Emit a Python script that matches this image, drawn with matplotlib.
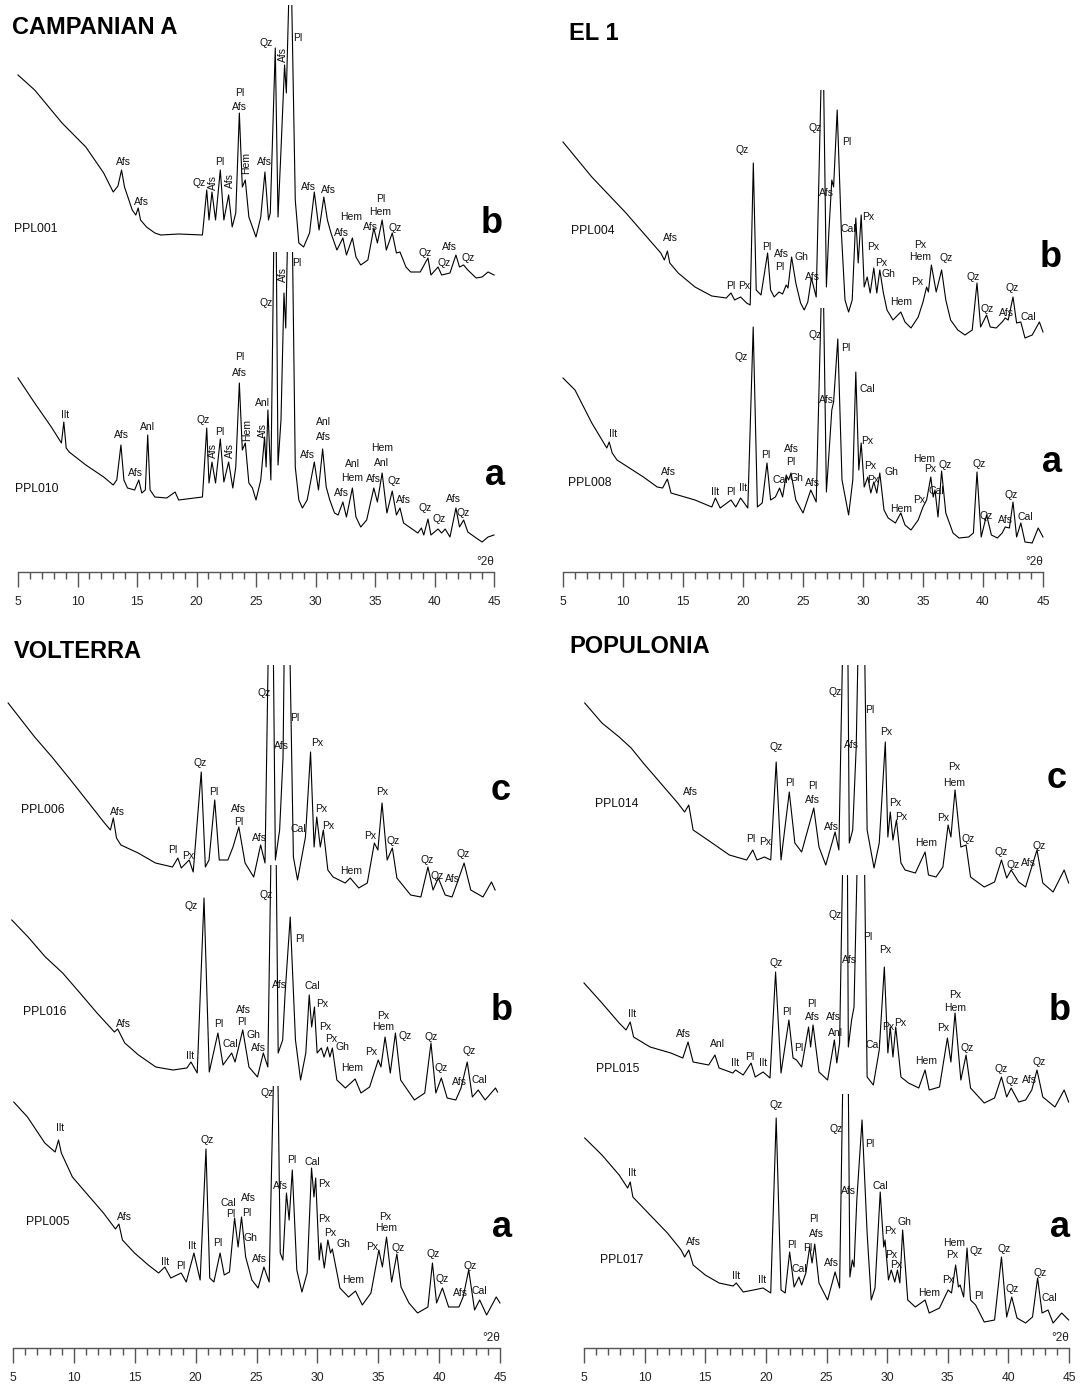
import numpy as np
import matplotlib
matplotlib.use("Agg")
import matplotlib.pyplot as plt
from matplotlib.patches import Rectangle

plt.rcParams['font.family'] = ['Liberation Sans', 'DejaVu Sans']

# ---- XRD patterns: (2theta, intensity a.u.) ----
# CAMPANIAN A
PPL001 = [(5.0, 497), (6.4, 482), (8.7, 449), (10.7, 425), (12.2, 399), (13.0, 380), (13.4, 386), (13.7, 402),
          (13.95, 385), (14.6, 362), (14.9, 357), (15.1, 364), (15.3, 352), (15.8, 345), (16.5, 339), (17.0, 337),
          (18.5, 338), (20.5, 337), (20.86, 382), (21.05, 352), (21.3, 380), (21.6, 352), (22.0, 402), (22.3, 352),
          (22.7, 377), (23.0, 345), (23.3, 359), (23.6, 459), (23.85, 385), (24.1, 392), (24.4, 355), (24.7, 345),
          (25.0, 335), (25.4, 355), (25.75, 400), (26.05, 352), (26.2, 359), (26.62, 524), (26.85, 355), (27.1, 422),
          (27.4, 507), (27.55, 479), (27.9, 640), (28.3, 372), (28.6, 329), (29.0, 325), (29.5, 339), (29.9, 380),
          (30.3, 342), (30.7, 375), (31.0, 352), (31.3, 339), (31.8, 322), (32.3, 334), (32.6, 317), (33.1, 334),
          (33.4, 315), (33.8, 307), (34.4, 312), (34.9, 344), (35.2, 329), (35.6, 352), (35.95, 322), (36.45, 339),
          (36.8, 319), (37.1, 320), (37.6, 305), (38.0, 300), (38.8, 300), (39.45, 314), (39.7, 297), (40.3, 305),
          (40.6, 297), (41.3, 299), (41.8, 317), (42.1, 305), (42.45, 307), (42.8, 302), (43.5, 294), (44.0, 295),
          (44.5, 300), (45.0, 297)]
PPL001_LABELS = [(13.84, 410, 'Afs'), (15.34, 370, 'Afs'), (20.26, 389, 'Qz'), (21.35, 390, 'Afs', 'v'),
                 (21.93, 410, 'Pl'), (22.8, 392, 'Afs', 'v'), (23.63, 479, 'Pl'), (23.63, 465, 'Afs'),
                 (24.16, 409, 'Hem', 'v'), (25.69, 410, 'Afs'), (25.89, 529, 'Qz'), (27.25, 517, 'Afs', 'v'),
                 (28.52, 534, 'Pl'), (29.42, 385, 'Afs'), (31.1, 382, 'Afs'), (33.03, 355, 'Hem'),
                 (35.5, 373, 'Pl'), (35.4, 360, 'Hem'), (32.16, 339, 'Afs'), (34.62, 345, 'Afs'),
                 (36.73, 344, 'Qz'), (39.25, 319, 'Qz'), (40.78, 309, 'Qz'), (41.3, 325, 'Afs'), (42.8, 314, 'Qz')]

PPL010 = [(5.0, 194), (6.4, 169), (7.8, 145), (8.65, 129), (8.85, 150), (9.05, 124), (9.3, 120), (10.7, 107),
          (12.2, 95), (13.0, 87), (13.3, 92), (13.65, 127), (13.9, 92), (14.2, 84), (14.8, 82), (15.15, 92),
          (15.4, 79), (15.7, 82), (15.9, 137), (16.1, 82), (16.5, 75), (17.5, 74), (18.2, 80), (18.5, 72),
          (20.5, 75), (20.86, 144), (21.05, 89), (21.3, 110), (21.6, 89), (22.0, 133), (22.3, 90), (22.7, 110),
          (23.05, 84), (23.3, 105), (23.6, 189), (23.85, 122), (24.1, 129), (24.4, 89), (24.7, 84), (25.0, 72),
          (25.4, 92), (25.72, 135), (25.85, 105), (26.0, 162), (26.25, 92), (26.62, 450), (26.85, 107),
          (27.1, 152), (27.35, 279), (27.5, 244), (27.9, 480), (28.3, 105), (28.6, 72), (28.9, 64), (29.3, 72),
          (29.9, 110), (30.25, 82), (30.6, 123), (30.9, 85), (31.2, 72), (31.6, 59), (31.9, 57), (32.3, 70),
          (32.6, 55), (33.1, 84), (33.4, 55), (33.8, 45), (34.3, 52), (34.9, 84), (35.2, 70), (35.6, 99),
          (36.0, 59), (36.45, 81), (36.8, 57), (37.1, 64), (37.4, 49), (38.0, 44), (38.6, 39), (38.9, 44),
          (39.1, 37), (39.45, 53), (39.7, 37), (40.3, 43), (40.6, 39), (40.9, 43), (41.3, 35), (41.8, 64),
          (42.1, 45), (42.45, 52), (42.8, 40), (43.5, 34), (44.0, 30), (44.5, 35), (45.0, 37)]
PPL010_LABELS = [(8.98, 157, 'Ilt'), (13.67, 137, 'Afs'), (14.91, 99, 'Afs'), (15.86, 145, 'Anl'),
                 (20.54, 152, 'Qz'), (21.35, 122, 'Afs', 'v'), (21.99, 140, 'Pl'), (22.8, 122, 'Afs', 'v'),
                 (23.63, 215, 'Pl'), (23.63, 199, 'Afs'), (24.25, 142, 'Hem', 'v'), (25.55, 169, 'Anl'),
                 (25.55, 142, 'Afs', 'v'), (25.89, 269, 'Qz'), (27.25, 297, 'Afs', 'v'), (28.4, 309, 'Pl'),
                 (29.3, 117, 'Afs'), (30.66, 150, 'Anl'), (30.66, 135, 'Afs'), (32.16, 79, 'Afs'),
                 (33.1, 108, 'Anl'), (33.1, 94, 'Hem'), (34.85, 93, 'Afs'), (35.58, 124, 'Hem'),
                 (35.58, 109, 'Anl'), (36.64, 91, 'Qz'), (37.37, 72, 'Afs'), (39.19, 64, 'Qz'),
                 (40.43, 53, 'Qz'), (41.59, 73, 'Afs'), (42.37, 59, 'Qz')]

# EL 1
PPL004 = [(5.0, 430), (7.4, 395), (10.25, 359), (11.7, 339), (13.15, 319), (13.45, 312), (13.7, 321), (13.9, 309),
          (14.6, 299), (16.0, 285), (17.4, 276), (18.6, 274), (19.0, 279), (19.3, 272), (19.8, 275), (20.3, 269),
          (20.6, 267), (20.86, 409), (21.1, 282), (21.5, 277), (22.05, 319), (22.3, 282), (22.6, 275), (23.0, 280),
          (23.3, 278), (23.6, 287), (23.75, 284), (24.05, 315), (24.4, 289), (24.8, 269), (25.1, 262), (25.4, 270),
          (25.7, 294), (26.1, 275), (26.64, 560), (26.95, 285), (27.15, 339), (27.4, 392), (27.55, 385),
          (27.85, 462), (28.2, 339), (28.5, 272), (28.8, 260), (29.1, 272), (29.4, 354), (29.6, 309), (29.85, 357),
          (30.1, 285), (30.35, 295), (30.6, 279), (30.9, 304), (31.15, 279), (31.4, 302), (31.7, 279), (32.0, 262),
          (32.5, 252), (33.15, 260), (33.5, 250), (34.0, 244), (34.6, 255), (35.0, 270), (35.3, 285), (35.45, 280),
          (35.7, 307), (36.1, 280), (36.55, 302), (36.9, 272), (37.3, 252), (37.9, 242), (38.5, 237), (39.1, 242),
          (39.5, 289), (39.8, 245), (40.3, 257), (40.6, 245), (41.1, 244), (41.6, 250), (41.85, 254), (42.1, 252),
          (42.5, 275), (42.8, 249), (43.15, 250), (43.5, 234), (44.1, 237), (44.7, 250), (45.0, 240)]
PPL004_LABELS = [(13.92, 334, 'Afs'), (18.97, 286, 'Pl'), (20.08, 286, 'Px'), (19.9, 422, 'Qz'),
                 (21.97, 325, 'Pl'), (23.2, 318, 'Afs'), (24.83, 315, 'Gh'), (23.1, 305, 'Pl'),
                 (25.78, 295, 'Afs'), (26.02, 444, 'Qz'), (26.93, 379, 'Afs'), (28.66, 430, 'Pl'),
                 (28.8, 343, 'Cal'), (30.44, 355, 'Px'), (30.82, 325, 'Px'), (31.48, 309, 'Px'),
                 (32.11, 298, 'Gh'), (33.17, 270, 'Hem'), (34.75, 327, 'Px'), (34.8, 315, 'Hem'),
                 (34.49, 290, 'Px'), (36.91, 314, 'Qz'), (39.15, 295, 'Qz'), (40.38, 263, 'Qz'),
                 (41.93, 259, 'Afs'), (42.39, 284, 'Qz'), (43.74, 255, 'Cal')]

PPL008 = [(5.0, 194), (6.0, 182), (7.4, 149), (8.4, 129), (8.65, 124), (8.85, 130), (9.1, 119), (9.5, 112),
          (11.7, 95), (12.85, 85), (13.3, 84), (13.7, 93), (14.0, 79), (16.0, 72), (17.4, 65), (17.7, 74),
          (18.1, 64), (19.0, 72), (19.4, 65), (19.8, 74), (20.4, 64), (20.85, 245), (21.2, 65), (21.6, 69),
          (22.0, 109), (22.3, 72), (22.7, 75), (23.05, 84), (23.3, 75), (23.6, 97), (23.8, 92), (24.0, 99),
          (24.4, 72), (25.0, 59), (25.65, 82), (26.1, 70), (26.64, 330), (26.95, 80), (27.2, 125), (27.4, 162),
          (27.55, 170), (27.9, 233), (28.25, 92), (28.8, 57), (29.15, 92), (29.4, 200), (29.65, 102),
          (29.85, 129), (30.1, 85), (30.4, 95), (30.65, 79), (30.9, 90), (31.15, 79), (31.4, 99), (31.75, 62),
          (32.1, 54), (32.7, 49), (33.15, 59), (33.5, 47), (34.0, 42), (34.6, 52), (35.0, 65), (35.3, 72),
          (35.65, 95), (35.85, 75), (36.0, 82), (36.25, 55), (36.55, 101), (36.9, 59), (37.5, 39), (38.0, 34),
          (38.8, 35), (39.2, 39), (39.5, 100), (39.85, 35), (40.3, 57), (40.7, 37), (41.2, 34), (41.6, 39),
          (41.85, 45), (42.2, 44), (42.5, 70), (42.8, 35), (43.15, 49), (43.5, 30), (44.1, 29), (44.6, 44),
          (45.0, 35)]
PPL008_LABELS = [(9.2, 138, 'Ilt'), (13.78, 100, 'Afs'), (17.65, 80, 'Ilt'), (18.97, 80, 'Pl'),
                 (20.03, 84, 'Ilt'), (19.83, 215, 'Qz'), (21.91, 117, 'Pl'), (24.0, 123, 'Afs'),
                 (24.0, 110, 'Pl'), (23.1, 92, 'Cal'), (24.49, 94, 'Gh'), (25.78, 89, 'Afs'),
                 (26.02, 237, 'Qz'), (26.93, 172, 'Afs'), (28.6, 224, 'Pl'), (30.38, 183, 'Cal'),
                 (30.38, 131, 'Px'), (30.61, 106, 'Px'), (32.39, 100, 'Gh'), (30.82, 92, 'Px'),
                 (33.17, 63, 'Hem'), (34.69, 72, 'Px'), (35.13, 113, 'Hem'), (35.61, 103, 'Px'),
                 (36.85, 107, 'Qz'), (36.07, 81, 'Cal'), (39.67, 108, 'Qz'), (40.3, 56, 'Qz'),
                 (41.87, 52, 'Afs'), (42.31, 77, 'Qz'), (43.54, 55, 'Cal')]

# VOLTERRA
PPL006 = [(5.0, 645), (7.18, 611), (8.6, 591), (10.0, 570), (11.43, 548), (12.85, 526), (13.4, 518), (13.64, 530),
          (13.9, 510), (14.26, 503), (15.68, 495), (17.1, 485), (18.5, 481), (18.94, 490), (19.22, 480),
          (19.87, 488), (20.2, 476), (20.86, 576), (21.2, 481), (21.5, 488), (21.97, 548), (22.34, 488),
          (23.05, 488), (23.47, 501), (23.95, 521), (24.46, 485), (25.17, 471), (25.74, 503), (26.1, 485),
          (26.62, 900), (26.95, 488), (27.3, 518), (27.58, 591), (27.86, 900), (28.43, 491), (28.77, 468),
          (29.42, 511), (29.84, 596), (30.13, 501), (30.35, 531), (30.64, 501), (30.89, 518), (31.26, 478),
          (31.69, 471), (32.68, 465), (33.1, 470), (33.8, 460), (34.5, 465), (35.08, 505), (35.37, 498),
          (35.71, 545), (36.13, 488), (36.56, 500), (36.93, 470), (38.06, 453), (38.9, 451), (39.48, 481),
          (39.9, 458), (40.33, 470), (40.9, 453), (41.46, 451), (41.88, 465), (42.45, 485), (43.0, 458),
          (44.0, 451), (44.7, 466), (45.0, 458)]
PPL006_LABELS = [(13.98, 536, 'Afs'), (18.51, 498, 'Pl'), (19.79, 492, 'Px'), (20.78, 585, 'Qz'),
                 (21.91, 556, 'Pl'), (23.95, 539, 'Afs'), (23.95, 526, 'Pl'), (25.65, 510, 'Afs'),
                 (26.02, 655, 'Qz'), (27.44, 602, 'Afs'), (28.57, 630, 'Pl'), (28.85, 519, 'Cal'),
                 (30.41, 605, 'Px'), (30.75, 539, 'Px'), (31.26, 522, 'Px'), (33.19, 477, 'Hem'),
                 (34.75, 512, 'Px'), (35.71, 556, 'Px'), (36.64, 507, 'Qz'), (39.42, 488, 'Qz'),
                 (40.27, 472, 'Qz'), (41.52, 469, 'Afs'), (42.37, 494, 'Qz')]

PPL016 = [(5.1, 428), (6.44, 411), (7.86, 391), (9.28, 375), (10.7, 355), (12.1, 335), (13.53, 316), (13.8, 319),
          (14.38, 305), (15.51, 293), (16.93, 281), (18.34, 278), (19.48, 280), (19.82, 286), (20.33, 275),
          (20.89, 450), (21.32, 276), (22.03, 315), (22.45, 283), (23.16, 295), (23.44, 286), (24.07, 318),
          (24.58, 281), (25.28, 271), (25.76, 295), (26.13, 281), (26.64, 700), (26.98, 295), (27.35, 308),
          (27.55, 355), (27.97, 431), (28.4, 308), (28.82, 268), (29.25, 295), (29.53, 353), (29.73, 321),
          (29.96, 341), (30.18, 295), (30.52, 300), (30.75, 291), (31.03, 301), (31.23, 291), (31.43, 300),
          (31.8, 268), (32.5, 260), (33.3, 269), (33.78, 255), (34.49, 261), (35.2, 288), (35.42, 281),
          (35.76, 311), (36.19, 275), (36.61, 315), (37.04, 268), (38.17, 248), (39.02, 255), (39.53, 305),
          (39.93, 255), (40.38, 270), (40.86, 250), (41.57, 248), (42.0, 260), (42.51, 286), (42.93, 251),
          (43.41, 258), (43.98, 248), (44.83, 260), (45.0, 256)]
PPL016_LABELS = [(14.24, 324, 'Afs'), (19.76, 292, 'Ilt'), (19.82, 442, 'Qz'), (22.08, 324, 'Pl'),
                 (23.02, 304, 'Cal'), (24.09, 338, 'Afs'), (24.01, 326, 'Pl'), (24.92, 313, 'Gh'),
                 (25.37, 300, 'Afs'), (25.99, 453, 'Qz'), (27.12, 363, 'Afs'), (28.77, 409, 'Pl'),
                 (29.76, 362, 'Cal'), (30.58, 344, 'Px'), (30.86, 321, 'Px'), (31.32, 309, 'Px'),
                 (32.22, 301, 'Gh'), (33.07, 280, 'Hem'), (34.63, 296, 'Px'), (35.57, 332, 'Px'),
                 (35.62, 321, 'Hem'), (37.38, 312, 'Qz'), (39.53, 311, 'Qz'), (40.38, 280, 'Qz'),
                 (41.91, 266, 'Afs'), (42.65, 297, 'Qz'), (43.5, 268, 'Cal')]

PPL005 = [(5.06, 246), (6.19, 231), (7.61, 205), (8.46, 196), (8.74, 208), (8.97, 195), (9.88, 171), (11.01, 155),
          (12.43, 135), (13.42, 119), (13.7, 124), (13.99, 108), (14.98, 95), (16.11, 83), (16.96, 75),
          (17.47, 81), (17.96, 70), (18.81, 75), (19.23, 66), (19.86, 95), (20.37, 68), (20.85, 199), (21.16, 70),
          (21.5, 66), (22.01, 95), (22.35, 73), (22.78, 76), (23.2, 130), (23.49, 101), (23.77, 131), (24.11, 91),
          (24.62, 68), (25.13, 60), (25.61, 81), (26.04, 66), (26.62, 400), (26.95, 95), (27.17, 88),
          (27.46, 155), (27.68, 128), (27.94, 178), (28.31, 78), (28.73, 56), (29.16, 75), (29.52, 180),
          (29.72, 151), (29.86, 170), (30.15, 88), (30.29, 105), (30.57, 80), (30.86, 108), (31.08, 95),
          (31.23, 99), (31.85, 60), (32.56, 51), (33.13, 57), (33.69, 43), (34.4, 55), (35.05, 98), (35.34, 81),
          (35.68, 111), (36.1, 66), (36.53, 94), (36.87, 61), (37.52, 45), (38.23, 35), (39.08, 41), (39.45, 85),
          (39.79, 45), (40.27, 60), (40.78, 41), (41.63, 41), (41.97, 51), (42.43, 78), (42.91, 38), (43.33, 48),
          (43.9, 33), (44.69, 51), (45.0, 45)]
PPL005_LABELS = [(8.88, 220, 'Ilt'), (14.13, 131, 'Afs'), (17.47, 86, 'Ilt'), (18.81, 82, 'Pl'),
                 (19.74, 102, 'Ilt'), (20.93, 208, 'Qz'), (21.78, 105, 'Pl'), (22.69, 145, 'Cal'),
                 (22.92, 134, 'Pl'), (24.34, 150, 'Afs'), (24.19, 135, 'Pl'), (24.48, 110, 'Gh'),
                 (25.24, 89, 'Afs'), (25.9, 255, 'Qz'), (26.95, 162, 'Afs'), (27.88, 188, 'Pl'),
                 (29.58, 186, 'Cal'), (30.57, 164, 'Px'), (30.57, 129, 'Px'), (31.08, 115, 'Px'),
                 (32.13, 104, 'Gh'), (32.9, 68, 'Hem'), (34.54, 101, 'Px'), (35.59, 131, 'Px'),
                 (35.68, 120, 'Hem'), (36.67, 100, 'Qz'), (39.5, 94, 'Qz'), (40.27, 69, 'Qz'),
                 (41.77, 55, 'Afs'), (42.54, 82, 'Qz'), (43.33, 57, 'Cal')]

# POPULONIA
PPL014 = [(5.06, 645), (6.48, 625), (7.9, 611), (8.89, 600), (9.89, 585), (11.31, 565), (12.73, 545), (13.3, 536),
          (13.64, 543), (14.0, 518), (15.57, 505), (16.99, 493), (18.41, 488), (18.92, 498), (19.26, 488),
          (19.89, 491), (20.4, 488), (20.85, 586), (21.25, 488), (21.93, 556), (22.39, 505), (22.95, 496),
          (23.52, 521), (23.95, 540), (24.38, 501), (24.94, 483), (25.71, 516), (26.02, 498), (26.64, 900),
          (26.88, 505), (27.16, 518), (27.45, 601), (27.92, 900), (28.35, 518), (28.92, 480), (29.35, 505),
          (29.85, 606), (30.06, 511), (30.26, 536), (30.48, 508), (30.77, 528), (31.14, 485), (31.48, 478),
          (32.33, 475), (33.13, 496), (33.41, 473), (34.03, 471), (34.6, 481), (35.03, 523), (35.26, 511),
          (35.6, 558), (36.08, 501), (36.51, 503), (36.88, 471), (38.01, 461), (38.86, 466), (39.43, 488),
          (39.86, 470), (40.23, 478), (40.85, 466), (41.42, 461), (41.85, 478), (42.36, 498), (42.84, 465),
          (43.69, 456), (44.6, 478), (44.97, 465)]
PPL014_LABELS = [(13.78, 556, 'Afs'), (18.75, 509, 'Pl'), (19.97, 506, 'Px'), (20.85, 601, 'Qz'),
                 (21.96, 565, 'Pl'), (23.86, 562, 'Pl'), (23.81, 548, 'Afs'), (25.45, 521, 'Afs'),
                 (25.74, 656, 'Qz'), (27.07, 603, 'Afs'), (28.58, 638, 'Pl'), (29.91, 616, 'Px'),
                 (30.68, 545, 'Px'), (31.19, 531, 'Px'), (33.24, 505, 'Hem'), (34.66, 530, 'Px'),
                 (35.55, 581, 'Px'), (35.5, 565, 'Hem'), (36.68, 509, 'Qz'), (39.43, 496, 'Qz'),
                 (40.43, 483, 'Qz'), (41.65, 485, 'Afs'), (42.56, 502, 'Qz')]

PPL015 = [(5.0, 365), (6.48, 345), (7.9, 325), (8.47, 318), (8.81, 326), (9.09, 311), (10.45, 301), (12.16, 295),
          (13.15, 290), (13.58, 306), (14.0, 286), (15.28, 283), (15.8, 293), (16.14, 280), (17.27, 275),
          (17.5, 278), (18.13, 273), (18.78, 285), (19.12, 271), (19.77, 276), (20.34, 270), (20.8, 376),
          (21.25, 275), (21.9, 328), (22.24, 290), (22.53, 288), (22.95, 281), (23.52, 321), (23.69, 301),
          (23.89, 323), (24.38, 276), (25.09, 268), (25.65, 308), (25.85, 285), (26.08, 305), (26.64, 700),
          (26.8, 301), (27.07, 328), (27.27, 341), (27.92, 700), (28.35, 271), (28.86, 263), (29.35, 298),
          (29.77, 381), (30.06, 295), (30.26, 321), (30.48, 291), (30.71, 321), (31.14, 271), (31.76, 265),
          (32.61, 260), (33.13, 278), (33.47, 258), (34.32, 261), (34.97, 310), (35.26, 286), (35.6, 335),
          (36.08, 268), (36.51, 293), (36.88, 260), (38.01, 245), (38.86, 250), (39.43, 271), (39.86, 251),
          (40.23, 260), (40.85, 246), (41.42, 248), (41.93, 258), (42.36, 278), (42.84, 251), (43.84, 241),
          (44.6, 258), (44.97, 246)]
PPL015_LABELS = [(8.98, 334, 'Ilt'), (13.24, 314, 'Afs'), (15.99, 304, 'Anl'), (17.5, 285, 'Ilt'),
                 (18.69, 291, 'Pl'), (19.77, 285, 'Ilt'), (20.82, 385, 'Qz'), (21.73, 336, 'Pl'),
                 (22.73, 300, 'Pl'), (23.75, 344, 'Pl'), (23.81, 331, 'Afs'), (25.57, 331, 'Afs'),
                 (25.71, 315, 'Anl'), (25.74, 433, 'Qz'), (26.93, 388, 'Afs'), (28.41, 411, 'Pl'),
                 (29.86, 398, 'Px'), (28.86, 303, 'Cal'), (30.06, 321, 'Px'), (31.05, 325, 'Px'),
                 (33.18, 287, 'Hem'), (34.6, 320, 'Px'), (35.6, 353, 'Px'), (35.6, 340, 'Hem'),
                 (36.59, 300, 'Qz'), (39.38, 279, 'Qz'), (40.34, 267, 'Qz'), (41.7, 268, 'Afs'),
                 (42.5, 286, 'Qz')]

PPL017 = [(5.06, 210), (6.48, 193), (7.9, 173), (8.6, 160), (8.81, 166), (9.03, 151), (10.45, 133), (11.88, 115),
          (13.01, 98), (13.3, 91), (13.64, 98), (14.0, 83), (15.0, 73), (16.14, 65), (17.3, 62), (17.56, 65),
          (18.13, 56), (18.98, 58), (19.77, 60), (20.4, 55), (20.85, 230), (21.25, 58), (21.59, 55), (21.96, 96),
          (22.33, 61), (22.73, 71), (22.95, 63), (23.3, 75), (23.61, 101), (23.81, 85), (24.03, 104), (24.38, 65),
          (25.09, 48), (25.71, 76), (26.08, 60), (26.64, 500), (26.93, 71), (27.13, 88), (27.27, 81), (27.5, 148),
          (27.93, 228), (28.35, 115), (28.69, 48), (29.0, 60), (29.43, 156), (29.72, 101), (29.83, 108),
          (30.11, 68), (30.34, 78), (30.63, 66), (30.85, 78), (31.05, 65), (31.28, 118), (31.7, 48), (32.33, 41),
          (33.13, 48), (33.47, 35), (34.32, 40), (35.03, 58), (35.31, 55), (35.65, 83), (35.88, 61), (36.02, 63),
          (36.31, 51), (36.59, 100), (36.88, 48), (37.3, 43), (38.01, 26), (38.86, 28), (39.43, 91), (39.86, 31),
          (40.28, 51), (40.71, 30), (41.42, 25), (41.99, 31), (42.41, 70), (42.78, 35), (43.27, 38), (43.69, 25),
          (44.4, 35), (44.97, 28)]
PPL017_LABELS = [(8.98, 175, 'Ilt'), (14.06, 106, 'Afs'), (17.56, 72, 'Ilt'), (19.69, 68, 'Ilt'),
                 (20.82, 243, 'Qz'), (22.16, 103, 'Pl'), (22.73, 79, 'Cal'), (23.47, 100, 'Pl'),
                 (23.95, 129, 'Pl'), (24.18, 114, 'Afs'), (25.45, 85, 'Afs'), (25.8, 219, 'Qz'),
                 (26.79, 157, 'Afs'), (28.58, 204, 'Pl'), (29.43, 162, 'Cal'), (31.42, 126, 'Gh'),
                 (30.28, 117, 'Px'), (30.34, 93, 'Px'), (30.77, 83, 'Px'), (33.47, 55, 'Hem'),
                 (35.03, 68, 'Px'), (35.51, 105, 'Hem'), (35.4, 93, 'Px'), (37.36, 97, 'Qz'),
                 (37.59, 52, 'Pl'), (39.66, 99, 'Qz'), (40.34, 59, 'Qz'), (42.61, 75, 'Qz'),
                 (43.41, 50, 'Cal')]

# ---- layout (pixel geometry of the original figure) ----
W, H = 1081, 1384
fig = plt.figure(figsize=(W / 100, H / 100), dpi=100)
fig.patch.set_facecolor('white')

# (title, title_x, title_y, x_at_5, x_at_45, axis_y, top_y,
#  traces: (data, labels, name, name_pos, letter, letter_pos, clip_top, shift))
panels = [
    ('CAMPANIAN A', 12, 27, 18, 494, 572, 0, [
        (PPL001, PPL001_LABELS, 'PPL001', (4.66, 343), 'b', (44.8, 339), 567, 0.0),
        (PPL010, PPL010_LABELS, 'PPL010', (4.75, 83), 'a', (45.07, 87), 320, 0.0)]),
    ('EL 1', 569, 33, 563, 1043, 572, 0, [
        (PPL004, PPL004_LABELS, 'PPL004', (5.67, 341), 'b', (45.67, 305), 482, 0.0),
        (PPL008, PPL008_LABELS, 'PPL008', (5.38, 89), 'a', (45.75, 100), 264, 0.0)]),
    ('VOLTERRA', 14, 652, 13, 500, 1348, 620, [
        (PPL006, PPL006_LABELS, 'PPL006', (5.66, 538), 'c', (45.08, 548), 683, -0.4),
        (PPL016, PPL016_LABELS, 'PPL016', (5.86, 336), 'b', (45.16, 328), 483, -0.2),
        (PPL005, PPL005_LABELS, 'PPL005', (6.07, 126), 'a', (45.2, 111), 262, 0.0)]),
    ('POPULONIA', 569, 647, 584, 1069, 1348, 620, [
        (PPL014, PPL014_LABELS, 'PPL014', (5.88, 544), 'c', (44.0, 560), 683, 0.0),
        (PPL015, PPL015_LABELS, 'PPL015', (6.02, 279), 'b', (44.2, 328), 473, 0.0),
        (PPL017, PPL017_LABELS, 'PPL017', (6.3, 88), 'a', (44.26, 111), 254, 0.0)]),
]

for title, tx, ty, x5, x45, yax, ytop, traces in panels:
    fig.text(tx / W, 1 - ty / H, title, fontsize=17, fontweight='bold', ha='left', va='center')
    ax = fig.add_axes([x5 / W, 1 - yax / H, (x45 - x5) / W, (yax - ytop) / H])
    ax.set_xlim(5, 45)
    ax.set_ylim(0, yax - ytop)
    ax.patch.set_alpha(0)
    for s in ('top', 'left', 'right'):
        ax.spines[s].set_visible(False)
    ax.spines['bottom'].set_color('#555555')
    ax.spines['bottom'].set_linewidth(1.0)
    ax.set_yticks([])
    ax.set_xticks(range(5, 46, 5))
    ax.set_xticks(range(5, 46), minor=True)
    ax.tick_params(axis='x', which='major', direction='out', length=11, width=1.0,
                   color='#555555', labelsize=8.7, pad=6, labelcolor='#222222')
    ax.tick_params(axis='x', which='minor', direction='out', length=5, width=1.0, color='#555555')
    ax.text(45, 10, '°2θ', ha='right', va='center', fontsize=8.5, color='#222222')

    for data, labels, name, npos, letter, lpos, clip_top, shift in traces:
        tt = np.array([p[0] for p in data]) + shift
        ii = np.array([p[1] for p in data])
        line, = ax.plot(tt, ii, color='black', lw=0.8)
        box = Rectangle((0, -50), 60, clip_top + 50, transform=ax.transData)
        line.set_clip_path(box)
        for lab in labels:
            rot = 90 if len(lab) > 3 else 0
            ax.text(lab[0] + shift, lab[1], lab[2], fontsize=7.5, ha='center', va='center',
                    rotation=rot, color='#111111')
        ax.text(npos[0], npos[1], name, fontsize=8.7, ha='left', va='center', color='#111111')
        ax.text(lpos[0], lpos[1], letter, fontsize=26, fontweight='bold', ha='center', va='baseline')

fig.savefig('out.png', dpi=100, facecolor='white')
